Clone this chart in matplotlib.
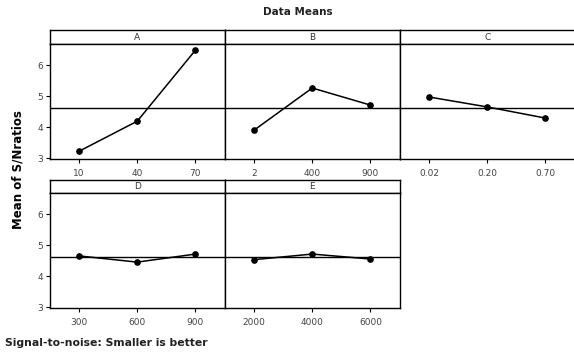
import matplotlib.pyplot as plt

# main effects of each factor on the mean S/N ratio
factors = ["A", "B", "C", "D", "E"]
levels = [
    ["10", "40", "70"],
    ["2", "400", "900"],
    ["0.02", "0.20", "0.70"],
    ["300", "600", "900"],
    ["2000", "4000", "6000"],
]
means = [
    [3.22, 4.19, 6.48],
    [3.90, 5.26, 4.71],
    [4.97, 4.65, 4.29],
    [4.65, 4.45, 4.71],
    [4.53, 4.71, 4.55],
]
grand_mean = sum(means[0]) / 3

W, H = 574, 354
fig = plt.figure(figsize=(W / 100, H / 100), dpi=100)

def box(x0, y0, w, h):
    # pixel box (top-left origin) -> figure fraction
    return [x0 / W, 1 - (y0 + h) / H, w / W, h / H]

lefts = [50, 225, 400]
rows = [(30, 44, 159), (180, 193, 308)]
pw = 174.5
tick_col = "#444444"

for i, f in enumerate(factors):
    r, c = divmod(i, 3)
    top, strip_bot, bot = rows[r]
    x0 = lefts[c]

    sax = fig.add_axes(box(x0, top, pw, strip_bot - top))
    sax.set_xticks([])
    sax.set_yticks([])
    for s in sax.spines.values():
        s.set_linewidth(1.0)
    sax.text(0.5, 0.5, f, ha="center", va="center", fontsize=6.5, color="#333333")

    ax = fig.add_axes(box(x0, strip_bot, pw, bot - strip_bot))
    xs = [1, 2, 3]
    ax.axhline(grand_mean, color="black", lw=1.0)
    ax.plot(xs, means[i], color="black", lw=1.1, marker="o", ms=3.8)
    ax.set_xlim(0.5, 3.5)
    ax.set_ylim(2.97, 6.68)
    ax.set_xticks(xs)
    ax.set_xticklabels(levels[i], fontsize=6.5, color=tick_col)
    ax.tick_params(axis="x", length=3, width=0.8, pad=4)
    if c == 0:
        ax.set_yticks([3, 4, 5, 6])
        ax.tick_params(axis="y", length=3, width=0.8, labelsize=6.5, labelcolor=tick_col, pad=2)
    else:
        ax.set_yticks([])
    for s in ax.spines.values():
        s.set_linewidth(1.0)

fig.text(298 / W, 1 - 12 / H, "Data Means", ha="center", va="center",
         fontsize=7.5, fontweight="bold", color="#222222")
fig.text(18 / W, 1 - 170 / H, "Mean of S/Nratios", rotation=90, ha="center",
         va="center", fontsize=8.5, fontweight="bold")
fig.text(5 / W, 1 - 343 / H, "Signal-to-noise: Smaller is better", ha="left",
         va="center", fontsize=7.8, fontweight="bold", color="#222222")

fig.savefig("out.png", dpi=100)
